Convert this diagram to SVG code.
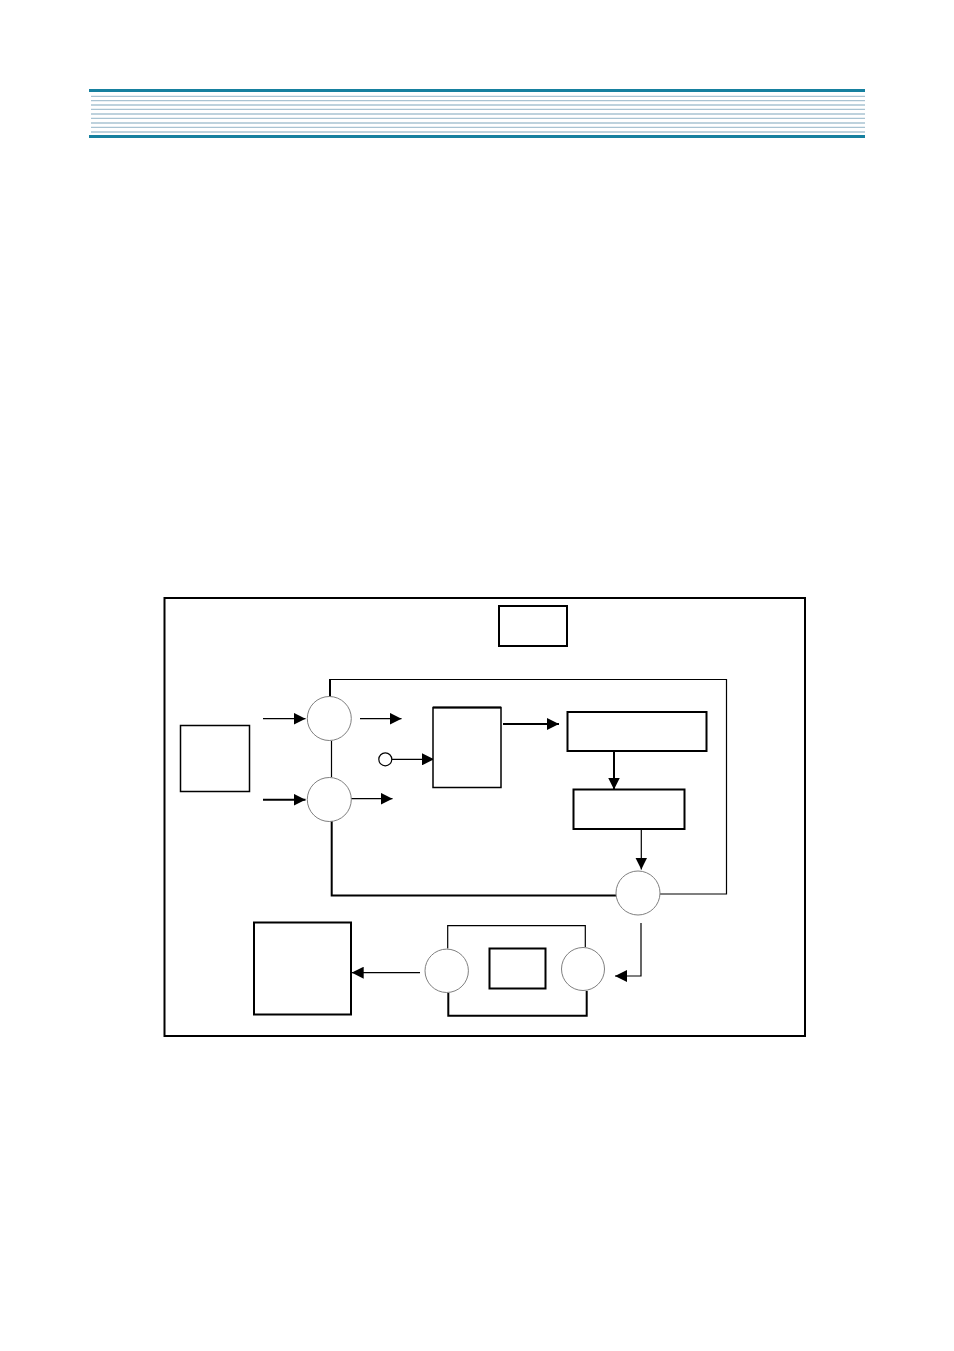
<svg xmlns="http://www.w3.org/2000/svg" width="954" height="1351" viewBox="0 0 954 1351">
<defs>
<style>
.bar{fill:#16809f}
.hl{stroke:#a9c3d2;stroke-width:1.3}
.box{fill:#fff;stroke:#000;stroke-width:1.5}
.thick{fill:#fff;stroke:#000;stroke-width:2}
.circ{fill:#fff;stroke:#808080;stroke-width:1}
.ln{fill:none;stroke:#000;stroke-width:1.2}
.lnb{fill:none;stroke:#000;stroke-width:2}
</style>
<marker id="ah" viewBox="0 0 12 12" refX="12" refY="6" markerWidth="12" markerHeight="12" markerUnits="userSpaceOnUse" orient="auto">
<path d="M0,0 L12,6 L0,12 Z" fill="#000"/>
</marker>
</defs>
<rect width="954" height="1351" fill="#fff"/>
<g id="header">
<rect class="bar" x="89" y="89" width="776" height="3"/>
<g class="hl">
<line x1="91" y1="96.3" x2="865" y2="96.3"/>
<line x1="91" y1="100.7" x2="865" y2="100.7"/>
<line x1="91" y1="105" x2="865" y2="105"/>
<line x1="91" y1="109.3" x2="865" y2="109.3"/>
<line x1="91" y1="114" x2="865" y2="114"/>
<line x1="91" y1="118.3" x2="865" y2="118.3"/>
<line x1="91" y1="123" x2="865" y2="123"/>
<line x1="91" y1="127.3" x2="865" y2="127.3"/>
<line x1="91" y1="132" x2="865" y2="132"/>
</g>
<rect class="bar" x="89" y="135" width="776" height="3"/>
</g>
<g id="frame"><rect x="164.5" y="598" width="640.5" height="438" fill="none" stroke="#000" stroke-width="2"/></g>
<g id="connectors">
<polyline class="ln" points="330,697 330,679.5 726.5,679.5 726.5,894 660,894"/>
<line class="lnb" x1="330" y1="679" x2="330" y2="697"/>
<line class="ln" x1="331.5" y1="741" x2="331.5" y2="777"/>
<polyline class="lnb" points="331.7,821 331.7,895.5 616,895.5"/>
<line class="ln" x1="263" y1="718.7" x2="305.5" y2="718.7" marker-end="url(#ah)"/>
<line class="ln" x1="360" y1="718.7" x2="401.5" y2="718.7" marker-end="url(#ah)"/>
<line class="lnb" x1="263" y1="799.7" x2="305.5" y2="799.7" marker-end="url(#ah)"/>
<line class="ln" x1="351" y1="798.7" x2="392.5" y2="798.7" marker-end="url(#ah)"/>
<line class="ln" x1="392" y1="759.3" x2="434" y2="759.3" marker-end="url(#ah)"/>
<line class="lnb" x1="503" y1="724" x2="559" y2="724" marker-end="url(#ah)"/>
<line class="lnb" x1="614" y1="751" x2="614" y2="789.5" marker-end="url(#ah)"/>
<line class="ln" x1="641.3" y1="829" x2="641.3" y2="869.5" marker-end="url(#ah)"/>
<polyline class="ln" points="641,923 641,976 615,976" marker-end="url(#ah)"/>
<line class="ln" x1="420" y1="972.7" x2="351.7" y2="972.7" marker-end="url(#ah)"/>
<polyline class="ln" points="447.7,948.5 447.7,925.7 585.3,925.7 585.3,947"/>
<polyline class="lnb" points="448.3,993 448.3,1015.7 586.7,1015.7 586.7,991"/>
</g>
<g id="node-top-box"><rect class="thick" x="499" y="606" width="68" height="40"/></g>
<g id="node-left-box"><rect class="box" x="180.5" y="725.5" width="69" height="66"/></g>
<g id="node-circle1"><circle class="circ" cx="329.3" cy="718.5" r="22"/></g>
<g id="node-circle2"><circle class="circ" cx="329.3" cy="799.5" r="22"/></g>
<g id="node-small-circle"><circle cx="385.3" cy="759.3" r="6.5" fill="#fff" stroke="#000" stroke-width="1.2"/></g>
<g id="node-center-box"><rect class="box" x="433" y="707.5" width="68" height="80"/><line x1="433" y1="707.5" x2="501" y2="707.5" stroke="#000" stroke-width="2"/></g>
<g id="node-right-box1"><rect class="thick" x="567.5" y="712" width="139" height="39"/></g>
<g id="node-right-box2"><rect class="thick" x="573.5" y="789.5" width="111" height="39.5"/></g>
<g id="node-circle3"><circle class="circ" cx="638" cy="893" r="22"/></g>
<g id="node-circle4"><circle class="circ" cx="583" cy="969" r="21.5"/></g>
<g id="node-circle5"><circle class="circ" cx="446.7" cy="970.8" r="21.7"/></g>
<g id="node-inner-box"><rect class="thick" x="489.5" y="948.5" width="56" height="40"/></g>
<g id="node-bottom-box"><rect class="thick" x="254" y="922.5" width="97" height="92"/></g>
</svg>
